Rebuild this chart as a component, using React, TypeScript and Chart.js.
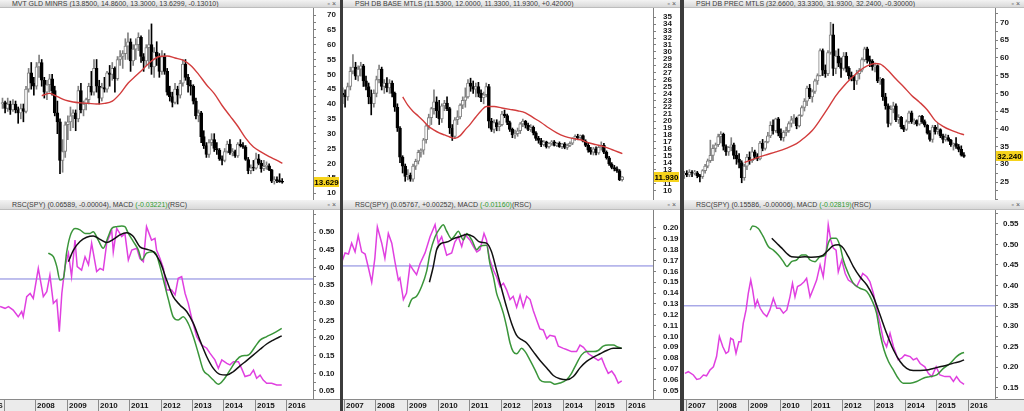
import React, { useEffect, useRef } from "react";
import { Chart, registerables } from "chart.js";

Chart.register(...registerables);

type Candle = [number, number, number, number]; // open, high, low, close
type Pt = [number, number]; // decimal year, value

// first candle = December 2006 (monthly candles, centred mid-month)
const FIRST_CANDLE = 2006.9583;
const MONTH = 1 / 12;

// ---------- MVT GLD MINRS (monthly OHLC, Dec 2006 .. Nov 2015) ----------
const gdxCandles: Candle[] = [
  [40,42,38.5,40.5],
  [40.5,41,37,38.5],[38.5,42,37.5,40],[40,41,36.5,38],[38,41.5,37.5,40],[40,41,37,38],[38,39,33.5,37],
  [37,40,35,38.5],[38.5,40,34,37.5],[37.5,46,37,45],[45,52,44,50.5],[50.5,54,45,47],[47,49,43,46],
  [46,54,45,52.5],[52.5,56.5,49,54],[54,55,46,48],[48,49,42,44],[44,48,41.5,46.5],[46.5,50,44,48.5],
  [48.5,50,43,44.5],[44.5,46,36,37],[37,41,30,34],[34,35,16.5,21],[21,28,17,24],[24,34,22,33],
  [33,36,28,34],[34,39,31,36],[36,38,32,37],[37,38,31,35],[35,46,34,44.5],[44.5,47,37,38],
  [38,41,36,40],[40,42,38,41.5],[41.5,47,40,46],[46,51,43,44],[44,55,43,52],[52,55,44,46],
  [46,48,40,42],[42,47,41,45.5],[45.5,49,44,45],[45,51,44,50.5],[50.5,53,46,50],[50,54,48,52],
  [52,52.5,44,48.5],[48.5,56,48,55],[55,58,53,56],[56,58,52,57],[57,62,55,59.5],[59.5,64,55,61],
  [61,62,51,54.5],[54.5,60,53,58.5],[58.5,62,55,60],[60,64,58,62.5],[62.5,63,54,56],[56,57,51,54.5],
  [54.5,60,53,59],[59,65,52,60],[60,67,50,52.5],[52.5,59,49,57.5],[57.5,61,53,56],[56,57,49,51],
  [51,58,50,56],[56,57,50,51],[51,52,43,44],[44,46,41,42.5],[42.5,44,39,40.5],[40.5,47,40,45],
  [45,46,40,43],[43,48,42,47],[47,55,46,53.5],[53.5,55,48,49],[49,50,44,46.5],[46.5,48,43,46],
  [46,46.5,40,41],[41,42,35,36],[36,38,34,37],[37,37.5,27,29],[29,31,25,26],[26,27,22,23],
  [23,28,22,27],[27,30,26,28],[28,30,24,25],[25,27,23,24.5],[24.5,25,21,21.5],[21.5,22.5,19.5,21],
  [21,25,20.5,24],[24,27.5,23.5,26.5],[26.5,28,23,23.5],[23.5,25,22.5,24],[24,24.5,22,22.5],[22.5,27,22,26.5],
  [26.5,28,25.5,26],[26,27,25,25.5],[25.5,26,21,21.3],[21.3,22,16.5,17.5],[17.5,19.5,16.5,18.5],[18.5,21,17.5,18.4],
  [18.4,23.5,18,21.5],[21.5,23,19.5,20],[20,21,17,18.2],[18.2,21,17.5,19],[19,20.5,18,19.2],[19.2,19.8,17.5,17.8],
  [17.8,18,13.5,14],[14,15.5,13,14.5],[14.5,15.5,13.5,14.2],[14.2,16.5,13.6,13.76],[13.85,14.86,13.3,13.63],
];
const gdxMa: Pt[] = [
  [2008.21,42.8],[2008.46,43.6],[2008.71,42.5],[2008.96,41.3],[2009.21,40.7],[2009.46,40.4],[2009.71,40.2],
  [2009.96,40.0],[2010.21,40.2],[2010.46,41.0],[2010.71,43.5],[2010.96,47.0],[2011.21,49.5],[2011.46,52.0],
  [2011.71,54.5],[2011.96,56.0],[2012.21,56.2],[2012.46,55.5],[2012.71,54.8],[2012.96,53.0],[2013.21,50.0],
  [2013.46,46.5],[2013.71,43.5],[2013.96,39.5],[2014.21,36.0],[2014.46,32.5],[2014.71,28.5],[2014.96,25.5],
  [2015.21,23.8],[2015.46,22.3],[2015.71,21.0],[2015.88,20.0],
];

// ---------- PSH DB BASE MTLS ----------
const dbbCandles: Candle[] = [
  [24,24.8,22.5,23.8],
  [23.8,24.5,22,23.5],[23.5,25.5,23,25],[25,27.8,24.5,27.2],[27.2,29.6,26.8,27.8],[27.8,28.5,26,26.5],[26.5,28,25.8,27.5],
  [27.5,28.5,26.5,28],[28,28.2,25,25.8],[25.8,26.5,24.5,25],[25,25.5,22.5,23.5],[23.5,24.5,20.9,22.5],[22.5,24.5,22,24],
  [24,26.5,23.5,26],[26,28.1,25.5,27.5],[27.5,27.8,24.5,25],[25,26,24,25.5],[25.5,26.3,24.2,24.8],[24.8,26,24,25.5],
  [25.5,25.8,23.5,24],[24,24.2,21.4,22],[22,22.5,18.5,19],[19,19.2,14,14.8],[14.8,15,12.5,13.5],[13.5,13.8,11.3,12],
  [12,13,11.5,12.2],[12.2,12.5,11.3,11.6],[11.6,13.8,11.3,13.5],[13.5,14.5,13,14.2],[14.2,15.8,13.8,15.5],[15.5,16,14.8,15.8],
  [15.8,17.5,15.2,17.3],[17.3,19.5,16.8,19.3],[19.3,21,18.8,20.5],[20.5,22,19.5,21.8],[21.8,24.5,21,22.8],[22.8,23.5,20.5,21.5],
  [21.5,23,19.5,20.3],[20.3,22.5,19.8,22.2],[22.2,23,21.5,22.6],[22.6,23.5,21.5,21.8],[21.8,22,18.2,19],[19,19.5,17.2,17.8],
  [17.8,20.5,17.5,20.2],[20.2,21.5,19.5,20.6],[20.6,22.5,20.3,22.3],[22.3,23.5,21.8,23],[23,24.8,22,23.5],[23.5,26,23.3,25.5],
  [25.5,26.2,24.3,25],[25,25.8,24,24.6],[24.6,25.5,23.5,25],[25,25.6,23.5,24],[24,24.5,22.8,23.4],[23.4,24.2,22.5,23.8],
  [23.8,25.5,23.5,25],[25,25.3,19,20],[20,20.4,18.5,18.8],[18.8,20.2,18.3,19.8],[19.8,20.2,18.6,19.2],[19.2,20,18.6,19.5],
  [19.5,21.4,19.3,21],[21,21.6,20.5,20.8],[20.8,21,19.5,19.8],[19.8,20,18.5,18.8],[18.8,19,17.6,18],[18,18.7,17.5,18.2],
  [18.2,19,17.8,18.6],[18.6,19.8,18.2,19.6],[19.6,20.3,19.2,20],[20,20.1,19,19.4],[19.4,19.7,18.6,18.8],[18.8,19.5,18.5,19.1],
  [19.1,19.3,18,18.3],[18.3,18.5,17.2,17.5],[17.5,17.8,16.8,17.2],[17.2,17.5,16.3,16.6],[16.6,17.2,16.4,17],[17,17.1,16.1,16.3],
  [16.3,16.9,16.1,16.8],[16.8,17.2,16.5,17],[17,17.2,16.4,16.5],[16.5,16.9,16.3,16.8],[16.8,17,16.2,16.3],[16.3,16.8,16,16.7],
  [16.7,16.9,16,16.2],[16.2,16.7,15.9,16.5],[16.5,17,16.3,16.8],[16.8,17.6,16.6,17.5],[17.5,18,17.2,17.8],[17.8,18.1,17.3,17.6],
  [17.6,18,17.4,17.9],[17.9,18,17,17.1],[17.1,17.3,16.3,16.5],[16.5,16.8,15.5,15.8],[15.8,16.2,15.2,15.5],[15.5,16.2,15.1,16],
  [16,16.3,15.1,15.4],[15.4,16.5,15.2,16.2],[16.2,17,15.8,16.5],[16.5,16.8,15.3,15.5],[15.5,15.7,14.5,14.7],[14.7,14.9,13.6,13.8],
  [13.8,14,13.1,13.3],[13.3,13.6,12.8,13.1],[13.1,13.4,12.6,12.8],[12.8,13,11.4,11.51],[11.53,12,11.33,11.93],
];
const dbbMa: Pt[] = [
  [2008.88,23.5],[2009.04,22.3],[2009.21,21.4],[2009.38,20.7],[2009.54,20.0],[2009.71,19.2],[2009.88,18.7],
  [2010.04,18.3],[2010.21,18.0],[2010.38,17.7],[2010.54,17.5],[2010.71,17.9],[2010.88,18.8],[2011.04,19.6],
  [2011.21,20.6],[2011.38,21.5],[2011.54,22.1],[2011.79,22.1],[2012.04,21.9],[2012.29,21.7],[2012.54,21.5],
  [2012.79,21.2],[2013.04,20.5],[2013.29,19.8],[2013.54,19.0],[2013.79,18.3],[2014.04,17.8],[2014.29,17.5],
  [2014.54,17.3],[2014.79,16.9],[2015.04,16.6],[2015.29,16.3],[2015.54,15.9],[2015.88,15.3],
];

// ---------- PSH DB PREC MTLS ----------
const dbpCandles: Candle[] = [
  [27,28,26,27.5],
  [27.5,28.2,26.5,27],[27,28.5,26.5,27.8],[27.8,28.2,26.5,27.5],[27.5,28.3,27,27.6],[27.6,28,26.2,26.8],[26.8,27.2,25,26.5],
  [26.5,28.5,26,28.2],[28.2,30,27.5,29.5],[29.5,31.5,29,31],[31,36.8,30.5,32.5],[32.5,35.5,31,34.5],[34.5,36,33.5,35.5],
  [35.5,38.5,35,37.8],[37.8,39.2,36,38.5],[38.5,38.8,34,35],[35,35.5,32.5,33.5],[33.5,35,32.5,34.8],[34.8,37.5,33.8,35.5],
  [35.5,36,31.5,32.5],[32.5,33.8,30,31.5],[31.5,33,29,30.5],[30.5,31,24.8,26.2],[26.2,30,25.5,29.5],[29.5,32.8,28.5,32],
  [32,33.5,30,31],[31,34.8,30.5,33.5],[33.5,34,31.5,32.2],[32.2,33,31,31.5],[31.5,36.5,31.2,36],[36,37,33.8,34.5],
  [34.5,36.5,34,36.3],[36.3,39,36,38],[38,42,37.5,41],[41,42.5,38.5,39.5],[39.5,43,39,42.8],[42.8,43.2,38,38.8],
  [38.8,40,36.8,37.5],[37.5,39.5,36.5,39],[39,40.5,38,39.5],[39.5,42,39,41.5],[41.5,43.5,40.5,42.5],[42.5,44,41.5,43],
  [43,43.3,40,40.8],[40.8,44,40.5,43.8],[43.8,46.5,43.5,46],[46,48.5,45,47.8],[47.8,52,46.5,51.5],[51.5,52.5,48.5,49],
  [49,51,47.5,50.5],[50.5,54,50,53.5],[53.5,55.5,52.5,55],[55,62.5,54.8,62],[62,62.5,55,56.5],[56.5,58,54.5,55.5],
  [55.5,62,55,61.5],[61.5,70,61,66.5],[66.5,69.5,55,57],[57,62,55.5,60.5],[60.5,62.5,57.5,58.5],[58.5,60,54.5,57],
  [57,61.5,56.5,60.5],[60.5,61.5,56,57],[57,57.5,54,55],[55,56,53.5,54.5],[54.5,55,51,53.5],[53.5,56.5,52.5,55.5],
  [55.5,57,54,56.5],[56.5,60,56,59.5],[59.5,63,59,62.5],[62.5,63,58.5,59.5],[59.5,60.5,57.5,59],[59,59.5,56.5,57.5],
  [57.5,58.5,56,57.8],[57.8,58,53,53.5],[53.5,54.5,52.5,54],[54,54.2,48,49],[49,50,45.5,46.5],[46.5,47,40.5,41.5],
  [41.5,46.5,41,45.5],[45.5,47.5,44.5,46.5],[46.5,47,42,42.5],[42.5,44,41.5,43.2],[43.2,43.5,40,40.5],[40.5,41,39.2,39.8],
  [39.8,42.5,39.5,42],[42,45,41.5,44.5],[44.5,45,41.5,42],[42,42.8,41.2,42.3],[42.3,42.5,40.8,41.3],[41.3,43.8,41,43.5],
  [43.5,43.8,41.5,42],[42,42.5,40.5,41],[41,41.2,38.5,38.8],[38.8,39.5,36.5,37],[37,41,36.2,40.5],[40.5,41,38.5,39.2],
  [39.2,41.5,38.5,39.8],[39.8,40,37.5,38],[38,38.5,36,37],[37,38.5,36.5,37.5],[37.5,38.2,36.5,36.8],[36.8,37,35,35.5],
  [35.5,36,34,35.8],[35.8,37.5,34.5,35],[35,35.6,33.5,34.2],[34.2,35.2,32.3,32.54],[32.66,33.33,31.93,32.24],
];
const dbpMa: Pt[] = [
  [2008.88,30.5],[2009.21,31.6],[2009.54,32.6],[2009.88,33.5],[2010.21,34.5],[2010.54,35.8],[2010.79,37.5],
  [2011.04,39.5],[2011.29,42.5],[2011.54,45.8],[2011.79,49.3],[2012.04,52.0],[2012.29,54.3],[2012.54,56.3],
  [2012.79,57.7],[2013.04,58.4],[2013.21,58.2],[2013.46,56.4],[2013.71,54.0],[2013.96,51.8],[2014.21,49.4],
  [2014.46,47.5],[2014.71,45.3],[2014.96,42.3],[2015.21,40.7],[2015.46,39.6],[2015.71,38.8],[2015.88,38.3],
];

// ---------- RSC(SPY) panels: ratio (magenta), MACD line (green), signal (black) ----------
const rsc1: Pt[] = [
  [2006.88,0.289],[2007.04,0.284],[2007.15,0.289],[2007.30,0.279],[2007.46,0.260],[2007.57,0.275],[2007.62,0.260],
  [2007.73,0.317],[2007.84,0.326],[2007.94,0.312],[2008.10,0.397],[2008.26,0.317],[2008.37,0.331],[2008.47,0.378],
  [2008.58,0.298],[2008.69,0.308],[2008.77,0.218],[2008.85,0.326],[2008.95,0.402],[2009.06,0.440],[2009.16,0.374],
  [2009.27,0.477],[2009.34,0.402],[2009.48,0.392],[2009.59,0.430],[2009.70,0.407],[2009.80,0.468],[2009.96,0.388],
  [2010.07,0.397],[2010.17,0.392],[2010.28,0.468],[2010.44,0.506],[2010.49,0.444],[2010.60,0.510],[2010.76,0.487],
  [2010.86,0.496],[2010.97,0.421],[2011.08,0.449],[2011.24,0.454],[2011.34,0.425],[2011.45,0.416],[2011.55,0.515],
  [2011.71,0.477],[2011.82,0.482],[2011.87,0.449],[2011.98,0.425],[2012.09,0.397],[2012.19,0.336],[2012.35,0.336],
  [2012.46,0.322],[2012.56,0.369],[2012.67,0.374],[2012.78,0.326],[2012.88,0.298],[2012.99,0.256],[2013.15,0.204],
  [2013.31,0.180],[2013.47,0.171],[2013.57,0.157],[2013.73,0.138],[2013.84,0.114],[2013.95,0.138],[2014.11,0.128],
  [2014.21,0.124],[2014.32,0.133],[2014.48,0.133],[2014.58,0.114],[2014.69,0.091],[2014.85,0.095],[2014.96,0.109],
  [2015.06,0.086],[2015.17,0.095],[2015.27,0.081],[2015.38,0.072],[2015.54,0.072],[2015.70,0.067],[2015.86,0.067],
];
const grn1: Pt[] = [
  [2008.42,0.440],[2008.58,0.430],[2008.69,0.402],[2008.79,0.364],[2008.90,0.369],[2009.00,0.440],[2009.11,0.487],
  [2009.27,0.510],[2009.43,0.506],[2009.59,0.496],[2009.75,0.496],[2009.85,0.501],[2010.01,0.477],[2010.17,0.454],
  [2010.33,0.487],[2010.44,0.510],[2010.60,0.515],[2010.76,0.517],[2010.86,0.515],[2010.97,0.496],[2011.13,0.473],
  [2011.29,0.449],[2011.40,0.421],[2011.55,0.440],[2011.77,0.444],[2011.87,0.435],[2011.98,0.402],[2012.09,0.364],
  [2012.25,0.308],[2012.40,0.260],[2012.56,0.251],[2012.72,0.260],[2012.88,0.241],[2013.04,0.204],[2013.20,0.157],
  [2013.36,0.109],[2013.52,0.095],[2013.68,0.081],[2013.84,0.069],[2014.00,0.081],[2014.21,0.109],[2014.42,0.138],
  [2014.58,0.149],[2014.80,0.152],[2015.01,0.175],[2015.17,0.194],[2015.38,0.204],[2015.59,0.213],[2015.86,0.227],
];
const blk1: Pt[] = [
  [2009.06,0.416],[2009.22,0.449],[2009.43,0.473],[2009.64,0.485],[2009.85,0.489],[2010.07,0.479],[2010.28,0.470],
  [2010.49,0.479],[2010.70,0.492],[2010.92,0.498],[2011.13,0.487],[2011.34,0.458],[2011.55,0.451],[2011.77,0.444],
  [2011.98,0.416],[2012.19,0.364],[2012.40,0.317],[2012.62,0.293],[2012.83,0.275],[2013.04,0.242],[2013.25,0.194],
  [2013.47,0.147],[2013.68,0.114],[2013.89,0.097],[2014.11,0.095],[2014.32,0.105],[2014.53,0.121],[2014.74,0.136],
  [2014.96,0.152],[2015.17,0.168],[2015.38,0.183],[2015.59,0.194],[2015.86,0.206],
];

const rsc2: Pt[] = [
  [2006.88,0.164],[2007.04,0.177],[2007.15,0.176],[2007.25,0.186],[2007.36,0.178],[2007.46,0.193],[2007.57,0.178],
  [2007.68,0.176],[2007.78,0.164],[2007.89,0.150],[2007.99,0.172],[2008.07,0.201],[2008.21,0.186],[2008.31,0.172],
  [2008.42,0.195],[2008.53,0.186],[2008.63,0.169],[2008.74,0.152],[2008.79,0.154],[2008.90,0.134],[2009.00,0.140],
  [2009.11,0.166],[2009.22,0.161],[2009.32,0.157],[2009.43,0.167],[2009.59,0.177],[2009.75,0.192],[2009.91,0.203],
  [2010.01,0.186],[2010.12,0.192],[2010.28,0.175],[2010.44,0.177],[2010.54,0.187],[2010.65,0.192],[2010.76,0.183],
  [2010.86,0.194],[2011.02,0.189],[2011.13,0.183],[2011.24,0.178],[2011.34,0.180],[2011.47,0.195],[2011.55,0.189],
  [2011.64,0.172],[2011.77,0.161],[2011.87,0.155],[2011.98,0.146],[2012.09,0.149],[2012.19,0.143],[2012.30,0.134],
  [2012.40,0.137],[2012.51,0.127],[2012.62,0.138],[2012.72,0.127],[2012.83,0.137],[2012.94,0.134],[2013.04,0.124],
  [2013.15,0.115],[2013.25,0.107],[2013.36,0.106],[2013.47,0.098],[2013.57,0.101],[2013.73,0.100],[2013.84,0.091],
  [2014.00,0.089],[2014.10,0.088],[2014.26,0.086],[2014.42,0.086],[2014.53,0.092],[2014.64,0.090],[2014.80,0.084],
  [2014.96,0.081],[2015.11,0.078],[2015.22,0.080],[2015.33,0.072],[2015.43,0.066],[2015.54,0.068],[2015.64,0.064],
  [2015.75,0.057],[2015.86,0.059],
];
const grn2: Pt[] = [
  [2009.06,0.127],[2009.16,0.134],[2009.32,0.137],[2009.48,0.146],[2009.64,0.160],[2009.75,0.177],[2009.91,0.192],
  [2010.07,0.200],[2010.17,0.203],[2010.28,0.197],[2010.44,0.190],[2010.54,0.193],[2010.65,0.197],[2010.81,0.189],
  [2010.92,0.195],[2011.08,0.189],[2011.24,0.180],[2011.34,0.183],[2011.55,0.184],[2011.66,0.167],[2011.77,0.155],
  [2011.87,0.140],[2011.98,0.131],[2012.09,0.121],[2012.19,0.109],[2012.30,0.094],[2012.40,0.086],[2012.51,0.084],
  [2012.67,0.089],[2012.78,0.086],[2012.94,0.078],[2013.10,0.069],[2013.25,0.060],[2013.41,0.058],[2013.57,0.058],
  [2013.73,0.056],[2013.89,0.057],[2014.10,0.060],[2014.26,0.066],[2014.42,0.075],[2014.58,0.083],[2014.74,0.086],
  [2014.96,0.086],[2015.11,0.087],[2015.27,0.091],[2015.43,0.092],[2015.59,0.092],[2015.75,0.090],[2015.86,0.089],
];
const blk2: Pt[] = [
  [2009.73,0.150],[2009.85,0.164],[2009.96,0.180],[2010.12,0.186],[2010.28,0.187],[2010.49,0.190],[2010.70,0.192],
  [2010.92,0.194],[2011.13,0.192],[2011.34,0.187],[2011.55,0.186],[2011.71,0.178],[2011.87,0.161],[2012.03,0.144],
  [2012.19,0.127],[2012.35,0.112],[2012.51,0.101],[2012.67,0.097],[2012.83,0.094],[2013.04,0.086],[2013.25,0.078],
  [2013.47,0.071],[2013.68,0.064],[2013.89,0.061],[2014.10,0.060],[2014.32,0.063],[2014.53,0.071],[2014.74,0.077],
  [2014.96,0.081],[2015.17,0.084],[2015.38,0.087],[2015.59,0.089],[2015.86,0.089],
];

const rsc3: Pt[] = [
  [2006.98,0.185],[2007.09,0.189],[2007.25,0.181],[2007.36,0.170],[2007.46,0.172],[2007.57,0.181],[2007.67,0.179],
  [2007.78,0.193],[2007.89,0.201],[2007.99,0.226],[2008.08,0.275],[2008.19,0.250],[2008.29,0.234],[2008.37,0.238],
  [2008.44,0.271],[2008.52,0.267],[2008.61,0.234],[2008.70,0.262],[2008.77,0.262],[2008.84,0.307],[2008.93,0.340],
  [2009.00,0.380],[2009.08,0.413],[2009.14,0.389],[2009.22,0.348],[2009.29,0.364],[2009.38,0.344],[2009.48,0.332],
  [2009.59,0.324],[2009.69,0.340],[2009.80,0.368],[2009.91,0.344],[2010.01,0.344],[2010.12,0.332],[2010.23,0.340],
  [2010.33,0.372],[2010.41,0.405],[2010.49,0.372],[2010.57,0.397],[2010.67,0.401],[2010.78,0.409],[2010.86,0.417],
  [2010.97,0.372],[2011.08,0.393],[2011.18,0.413],[2011.29,0.450],[2011.39,0.421],[2011.48,0.478],[2011.55,0.548],
  [2011.63,0.511],[2011.71,0.491],[2011.80,0.486],[2011.87,0.433],[2011.98,0.462],[2012.09,0.429],[2012.19,0.413],
  [2012.35,0.405],[2012.46,0.397],[2012.56,0.413],[2012.65,0.429],[2012.78,0.421],[2012.88,0.409],[2012.99,0.380],
  [2013.09,0.344],[2013.20,0.307],[2013.31,0.266],[2013.41,0.250],[2013.52,0.283],[2013.63,0.250],[2013.78,0.218],
  [2013.89,0.222],[2013.99,0.230],[2014.16,0.226],[2014.26,0.218],[2014.37,0.222],[2014.48,0.209],[2014.63,0.201],
  [2014.74,0.185],[2014.85,0.177],[2014.99,0.201],[2015.11,0.181],[2015.27,0.177],[2015.43,0.177],[2015.54,0.165],
  [2015.64,0.177],[2015.75,0.165],[2015.88,0.158],
];
const grn3: Pt[] = [
  [2009.06,0.535],[2009.14,0.545],[2009.32,0.539],[2009.48,0.519],[2009.64,0.495],[2009.80,0.486],[2009.96,0.474],
  [2010.12,0.458],[2010.23,0.446],[2010.38,0.458],[2010.54,0.462],[2010.70,0.474],[2010.84,0.474],[2010.97,0.462],
  [2011.13,0.458],[2011.29,0.470],[2011.45,0.474],[2011.55,0.503],[2011.66,0.515],[2011.80,0.515],[2011.93,0.495],
  [2012.03,0.462],[2012.19,0.429],[2012.35,0.405],[2012.56,0.393],[2012.78,0.385],[2012.94,0.364],[2013.09,0.332],
  [2013.20,0.283],[2013.33,0.242],[2013.47,0.214],[2013.63,0.193],[2013.78,0.173],[2013.94,0.161],[2014.16,0.161],
  [2014.37,0.165],[2014.58,0.173],[2014.79,0.177],[2015.01,0.181],[2015.22,0.197],[2015.43,0.209],[2015.64,0.226],
  [2015.80,0.234],[2015.88,0.236],
];
const blk3: Pt[] = [
  [2009.75,0.515],[2009.91,0.503],[2010.07,0.491],[2010.23,0.478],[2010.38,0.470],[2010.60,0.469],[2010.81,0.470],
  [2011.02,0.469],[2011.23,0.470],[2011.39,0.474],[2011.55,0.486],[2011.71,0.497],[2011.87,0.499],[2012.03,0.491],
  [2012.19,0.470],[2012.35,0.446],[2012.56,0.421],[2012.78,0.401],[2012.99,0.372],[2013.20,0.328],[2013.41,0.283],
  [2013.63,0.242],[2013.84,0.214],[2014.05,0.197],[2014.26,0.192],[2014.48,0.192],[2014.69,0.193],[2014.90,0.197],
  [2015.11,0.201],[2015.33,0.205],[2015.54,0.210],[2015.75,0.214],[2015.88,0.218],
];

const refLevels = [0.367, 0.165, 0.35];

// axis tick labels
const yearTicks = [2007, 2008, 2009, 2010, 2011, 2012, 2013, 2014, 2015, 2016];
const gdxTicks = [10, 15, 20, 25, 30, 35, 40, 45, 50, 55, 60, 65, 70];
const dbbTicks = [10, 11, 12, 13, 14, 15, 16, 17, 18, 19, 20, 21, 22, 23, 24, 25, 26, 27, 28, 29, 30, 31, 32, 33, 34, 35];
const dbpTicks = [25, 30, 35, 40, 45, 50, 55, 60, 65, 70];
const rsc1Ticks = [0.05, 0.1, 0.15, 0.2, 0.25, 0.3, 0.35, 0.4, 0.45, 0.5];
const rsc2Ticks = [0.05, 0.06, 0.07, 0.08, 0.09, 0.1, 0.11, 0.12, 0.13, 0.14, 0.15, 0.16, 0.17, 0.18, 0.19, 0.2];
const rsc3Ticks = [0.15, 0.2, 0.25, 0.3, 0.35, 0.4, 0.45, 0.5, 0.55];

const topTitles = [
  "MVT GLD MINRS (13.8500, 14.8600, 13.3000, 13.6299, -0.13010)",
  "PSH DB BASE MTLS (11.5300, 12.0000, 11.3300, 11.9300, +0.42000)",
  "PSH DB PREC MTLS (32.6600, 33.3300, 31.9300, 32.2400, -0.30000)",
];
const bottomTitles = [
  ["RSC(SPY) (0.06589, -0.00004), MACD ", "(-0.03221)", "(RSC)"],
  ["RSC(SPY) (0.05767, +0.00252), MACD ", "(-0.01160)", "(RSC)"],
  ["RSC(SPY) (0.15586, -0.00006), MACD ", "(-0.02819)", "(RSC)"],
];
const lastTags = ["13.629", "11.930", "32.240"];

// ---------- layout / style ----------
const FONT = 'Arial, "Liberation Sans", Helvetica, sans-serif';
const COLS = [
  { left: 0, width: 340, plotW: 313, xMin: 2006.879, xMax: 2016.857, padTop: 11, padBot: 3 },
  { left: 343, width: 337, plotW: 310, xMin: 2006.975, xMax: 2016.857, padTop: 7, padBot: 7 },
  { left: 684, width: 340, plotW: 311, xMin: 2006.952, xMax: 2016.866, padTop: 2, padBot: 5 },
];
const TOP_Y = 8, TOP_H = 192;
const BOT_Y = 210, BOT_H = 201, BAND_H = 12;
const TOP_RANGES = [[7.65, 72.36, 2.5], [8.6, 36.34, 0], [19.94, 74.03, 2.5]];
const BOT_RANGES = [[0.0273, 0.5623, 0.025], [0.0423, 0.2166, 0], [0.1223, 0.5842, 0.025]];
const MAGENTA = "#e040e0", GREEN = "#3a953a", BLACK = "#111111", RED = "#d23c3c", BLUE = "#7f7fdc";
const HOLLOW = "#808080";

const priceTagPlugin = {
  id: "priceTag",
  afterDraw(chart: any, _a: any, opts: any) {
    const { ctx, chartArea } = chart;
    const y = Math.round(chart.scales.y.getPixelForValue(opts.value));
    const x = chartArea.right + 1;
    const w = chart.width - x - 1;
    ctx.save();
    ctx.fillStyle = "#f6d31c";
    ctx.fillRect(x, y - 5, w, 10);
    ctx.fillStyle = "#000";
    ctx.font = `bold 8px ${FONT}`;
    ctx.textAlign = "center";
    ctx.textBaseline = "middle";
    ctx.fillText(opts.text, x + w / 2, y + 0.5);
    ctx.restore();
  },
};

const yearBandPlugin = {
  id: "yearBand",
  afterDraw(chart: any, _a: any, opts: any) {
    const { ctx, chartArea } = chart;
    const xs = chart.scales.x;
    const top = chartArea.bottom;
    const h = chart.height - top;
    ctx.save();
    ctx.fillStyle = "#ebebeb";
    ctx.fillRect(0, top, chart.width, h);
    ctx.strokeStyle = "#8a8a8a";
    ctx.lineWidth = 1;
    ctx.beginPath();
    ctx.moveTo(0, top + 0.5);
    ctx.lineTo(chart.width, top + 0.5);
    ctx.stroke();
    ctx.font = `bold 8px ${FONT}`;
    ctx.fillStyle = "#151515";
    ctx.textBaseline = "middle";
    for (const yr of opts.years) {
      const px = Math.round(xs.getPixelForValue(yr)) + 0.5;
      if (px < chartArea.left - 1 || px > chartArea.right) continue;
      ctx.beginPath();
      ctx.moveTo(px, top);
      ctx.lineTo(px, chart.height);
      ctx.stroke();
      if (opts.hide && opts.hide.includes(yr)) continue;
      ctx.textAlign = "left";
      ctx.fillText(String(yr), px + 1.5, top + h / 2 + 0.5);
    }
    if (opts.lead) {
      const px = xs.getPixelForValue(opts.lead.at);
      ctx.textAlign = "right";
      ctx.fillText(opts.lead.text, px - 1, top + h / 2 + 0.5);
    }
    ctx.restore();
  },
};

function yScale(min: number, max: number, major: number[], minorStep: number, axisW: number, decimals: number, pad: number) {
  const vals: number[] = [...major];
  if (minorStep > 0) {
    for (let v = major[0] - minorStep; v > min; v -= minorStep) vals.push(v);
    for (let v = major[0] + minorStep; v < max; v += minorStep) {
      if (!major.some((m) => Math.abs(m - v) < 1e-9)) vals.push(v);
    }
  }
  vals.sort((a, b) => a - b);
  return {
    type: "linear",
    position: "right",
    min,
    max,
    afterBuildTicks: (s: any) => {
      s.ticks = vals.map((v) => ({ value: v }));
    },
    afterFit: (s: any) => {
      s.width = axisW;
      s.paddingTop = 0;
      s.paddingBottom = 0;
    },
    grid: { drawOnChartArea: false, drawTicks: true, tickLength: 3, color: "#808080", lineWidth: 1 },
    border: { display: true, color: "#808080", width: 1 },
    ticks: {
      autoSkip: false,
      padding: pad,
      color: "#1a1a1a",
      font: { family: FONT, size: 8, weight: "bold" },
      callback: (v: number) => (major.some((m) => Math.abs(m - v) < 1e-9) ? v.toFixed(decimals) : ""),
    },
  };
}

function xScale(col: any) {
  return { type: "linear", min: col.xMin, max: col.xMax, display: false, offset: false, grid: { offset: false } };
}

const pts = (a: Pt[]) => a.map(([x, y]) => ({ x, y }));

function topConfig(i: number) {
  const candles = [gdxCandles, dbbCandles, dbpCandles][i];
  const ma = [gdxMa, dbbMa, dbpMa][i];
  const ticks = [gdxTicks, dbbTicks, dbpTicks][i];
  const col = COLS[i];
  const [mn, mx, minor] = TOP_RANGES[i];
  const up = (k: Candle) => k[3] >= k[0];
  const xAt = (j: number) => FIRST_CANDLE + j * MONTH;
  return {
    type: "bar",
    data: {
      datasets: [
        {
          type: "line",
          data: pts(ma),
          borderColor: RED,
          borderWidth: 1.4,
          pointRadius: 0,
          cubicInterpolationMode: "monotone",
          order: 0,
        },
        {
          type: "bar",
          data: candles.map((k, j) => ({ x: xAt(j), y: [Math.min(k[0], k[3]), Math.max(k[0], k[3])] })),
          backgroundColor: candles.map((k) => (up(k) ? "#ffffff" : "#000000")),
          borderColor: candles.map((k) => (up(k) ? HOLLOW : "#000000")),
          borderWidth: 1,
          borderSkipped: false,
          barThickness: 3,
          minBarLength: 1,
          grouped: false,
          order: 1,
        },
        {
          type: "bar",
          data: candles.map((k, j) => ({ x: xAt(j), y: [k[2], k[1]] })),
          backgroundColor: candles.map((k) => (up(k) ? HOLLOW : "#000000")),
          borderWidth: 0,
          barThickness: 1,
          grouped: false,
          order: 2,
        },
      ],
    },
    options: {
      animation: false,
      responsive: false,
      maintainAspectRatio: false,
      events: [],
      layout: { padding: 0 },
      plugins: { legend: { display: false }, tooltip: { enabled: false }, priceTag: { value: candles[candles.length - 1][3], text: lastTags[i] } },
      scales: { x: xScale(col), y: yScale(mn, mx, ticks, minor, col.width - col.plotW, 0, col.padTop) },
    },
    plugins: [priceTagPlugin],
  };
}

function bottomConfig(i: number) {
  const col = COLS[i];
  const [mn, mx, minor] = BOT_RANGES[i];
  const ticks = [rsc1Ticks, rsc2Ticks, rsc3Ticks][i];
  const rsc = [rsc1, rsc2, rsc3][i];
  const grn = [grn1, grn2, grn3][i];
  const blk = [blk1, blk2, blk3][i];
  const line = (d: Pt[], color: string, w: number, order: number, smooth: boolean) => ({
    data: pts(d),
    borderColor: color,
    borderWidth: w,
    pointRadius: 0,
    tension: 0,
    cubicInterpolationMode: smooth ? "monotone" : "default",
    order,
  });
  return {
    type: "line",
    data: {
      datasets: [
        line(blk, BLACK, 1.5, 0, true),
        line(grn, GREEN, 1.5, 1, true),
        line(rsc, MAGENTA, 1.5, 2, false),
        line([[col.xMin, refLevels[i]], [col.xMax, refLevels[i]]], BLUE, 1, 3, false),
      ],
    },
    options: {
      animation: false,
      responsive: false,
      maintainAspectRatio: false,
      events: [],
      layout: { padding: { left: 0, right: 0, top: 0, bottom: BAND_H } },
      plugins: {
        legend: { display: false },
        tooltip: { enabled: false },
        yearBand: i === 0 ? { years: yearTicks, hide: [2007], lead: { at: 2007, text: "2006" } } : { years: yearTicks },
      },
      scales: { x: xScale(col), y: yScale(mn, mx, ticks, minor, col.width - col.plotW, 2, col.padBot) },
    },
    plugins: [yearBandPlugin],
  };
}

function ChartBox({ left, top, width, height, make }: any) {
  const ref = useRef<HTMLCanvasElement>(null);
  useEffect(() => {
    const chart = new Chart(ref.current as HTMLCanvasElement, make() as any);
    return () => chart.destroy();
  }, []);
  return (
    <div style={{ position: "absolute", left, top, width, height }}>
      <canvas ref={ref} width={width} height={height} style={{ display: "block", width, height }} />
    </div>
  );
}

function TitleBar({ left, top, width, height, children }: any) {
  return (
    <div
      style={{
        position: "absolute",
        left,
        top,
        width,
        height,
        background: "linear-gradient(#f3f3f3, #d9d9d9)",
        borderBottom: "1px solid #bdbdbd",
        boxSizing: "border-box",
        fontFamily: FONT,
        fontSize: 7,
        lineHeight: `${height - 1}px`,
        color: "#3a3a3a",
        whiteSpace: "nowrap",
        overflow: "hidden",
      }}
    >
      <span style={{ position: "absolute", left: 12, top: 0 }}>{children}</span>
      <span style={{ position: "absolute", right: 4, top: 0, fontSize: 7, color: "#555" }}>▫ ×</span>
    </div>
  );
}

export default function App() {
  return (
    <div style={{ position: "relative", width: 1024, height: 411, overflow: "hidden", background: "#fff" }}>
      <style>{"html,body{margin:0;padding:0;background:#fff}"}</style>
      {COLS.map((c, i) => (
        <React.Fragment key={i}>
          <TitleBar left={c.left} top={0} width={c.width} height={TOP_Y}>
            {topTitles[i]}
          </TitleBar>
          <ChartBox left={c.left} top={TOP_Y} width={c.width} height={TOP_H} make={() => topConfig(i)} />
          <TitleBar left={c.left} top={200} width={c.width} height={BOT_Y - 200}>
            {bottomTitles[i][0]}
            <span style={{ color: "#2e9a2e" }}>{bottomTitles[i][1]}</span>
            {bottomTitles[i][2]}
          </TitleBar>
          <ChartBox left={c.left} top={BOT_Y} width={c.width} height={BOT_H} make={() => bottomConfig(i)} />
        </React.Fragment>
      ))}
      <div style={{ position: "absolute", left: 340, top: 0, width: 3, height: 411, background: "#3c3c3c" }} />
      <div style={{ position: "absolute", left: 680, top: 0, width: 4, height: 411, background: "#3c3c3c" }} />
    </div>
  );
}
